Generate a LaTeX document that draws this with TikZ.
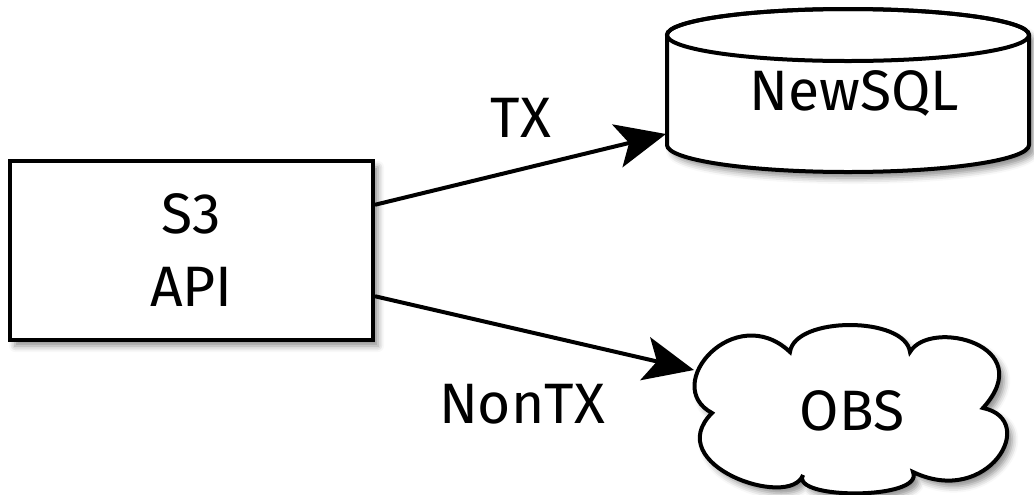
\documentclass[tikz,border=0pt]{standalone}
\usepackage{fontspec}
\setmainfont{Fira Sans}
\usetikzlibrary{arrows.meta,shadows.blur,calc}

\begin{document}
\begin{tikzpicture}[x=0.5pt,y=-0.5pt,
  line width=2pt,
  soft shadow/.style={blur shadow={shadow xshift=2.5pt,shadow yshift=-3pt,
      shadow blur radius=3pt,shadow opacity=45}},
  txt/.style={font=\fontsize{28.5}{36.5}\selectfont, inner sep=0pt},
  box/.style={draw, fill=white, soft shadow, minimum width=181.5pt,
      minimum height=89.5pt, align=center, txt},
  flow/.style={-{Stealth[length=25pt,width=22pt,inset=6pt,fill=black]},
      draw=black, line width=2pt},
]
\useasboundingbox (0,0) rectangle (1034,494);

% client-facing API box
\node[box] (s3) at (191.5,250.5) {S3\\API};

% NewSQL database cylinder
\path[draw, fill=white, soft shadow]
  (667,35) -- (667,145)
  arc[start angle=180, end angle=0, x radius=181, y radius=27]
  -- (1029,35)
  arc[start angle=0, end angle=-180, x radius=181, y radius=26] -- cycle;
\draw (848,35) ellipse[x radius=181, y radius=26];
\node[txt, anchor=base] (newsql) at (854,110) {NewSQL};
\coordinate (db-in) at (666,134);

% object storage cloud
\path[draw, fill=white, soft shadow]
  (712,413) .. controls (660,385) and (735,300) .. (790,352)
            .. controls (795,316) and (905,316) .. (910,352)
            .. controls (930,318) and (1040,345) .. (983,408)
            .. controls (1040,420) and (988,508) .. (913,472)
            .. controls (925,500) and (790,500) .. (803,475)
            .. controls (790,510) and (660,465) .. (712,413) -- cycle;
\node[txt, anchor=base] (obs) at (852,430) {OBS};
\coordinate (obs-in) at (694,370);

% request routing
\draw[flow] ($(s3.north east)!0.25!(s3.south east)$) -- (db-in);
\draw[flow] ($(s3.north east)!0.75!(s3.south east)$) -- (obs-in);
\node[txt, anchor=base] (tx) at (521,137) {TX};
\node[txt, anchor=base] (nontx) at (522,423) {NonTX};
\end{tikzpicture}
\end{document}
